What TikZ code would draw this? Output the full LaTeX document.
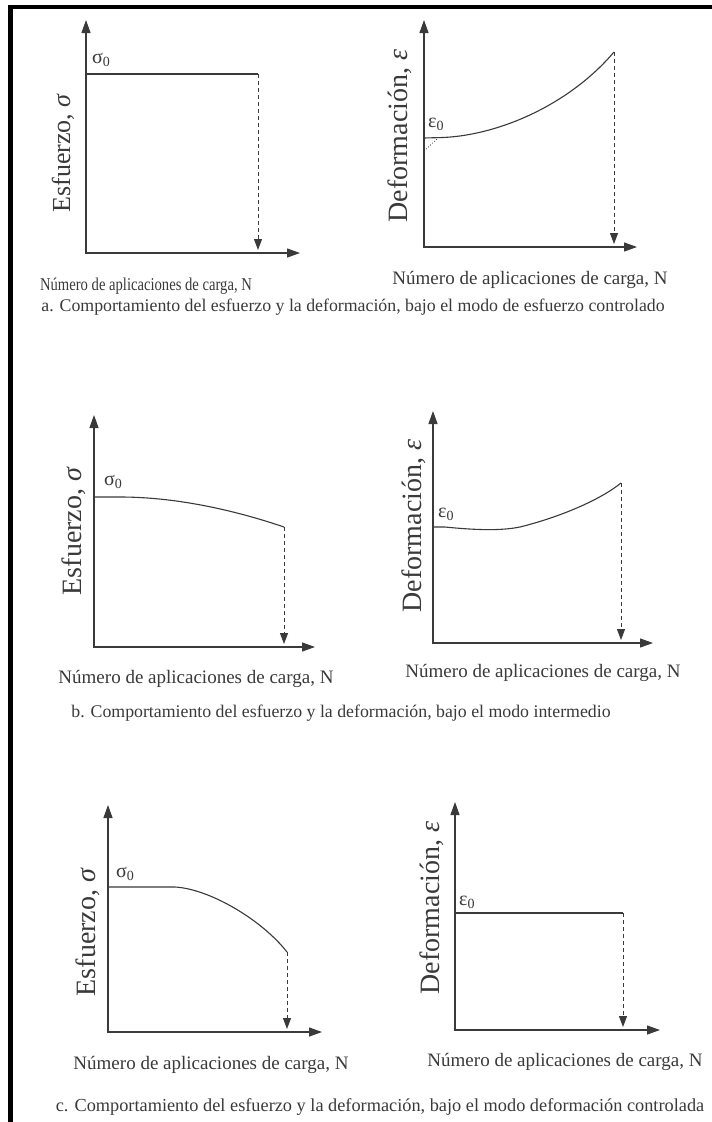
\documentclass[tikz,border=0pt]{standalone}
\usepackage{fontspec}
\usepackage{graphicx}
\setmainfont{Liberation Serif}
\usetikzlibrary{arrows.meta}
\definecolor{ink}{HTML}{3A3A3A}
\begin{document}
\begin{tikzpicture}[x=1pt,y=-1pt,
  axes/.style={draw=ink, line width=1.2pt, {Triangle[length=13pt,width=9pt]}-{Triangle[length=13pt,width=9pt]}},
  curve/.style={draw=ink, line width=1.1pt},
  dropline/.style={draw=ink, line width=1pt, dash pattern=on 4pt off 3pt, -{Triangle[length=11pt,width=8pt]}},
  lab/.style={text=ink, font=\fontsize{19}{22}\selectfont, inner sep=0pt},
  captxt/.style={text=ink, font=\fontsize{17.8}{21}\selectfont, inner sep=0pt},
  ylab/.style={text=ink, font=\fontsize{28}{32}\selectfont, inner sep=0pt, rotate=90},
  sub/.style={text=ink, font=\fontsize{20}{23}\selectfont, inner sep=0pt, anchor=west}]
\useasboundingbox (0,0) rectangle (712,1122);
\fill[white] (0,0) rectangle (712,1122);
% frame
\fill[black] (8,5) rectangle (13,1122);
\fill[black] (8,5) rectangle (712,9);

% ---------- row a ----------
% left
\coordinate (alo) at (86,253);
\draw[axes] (86,20) -- (alo) -- (300,253);
\draw[curve] (86,74) -- (258,74) coordinate (alend);
\draw[dropline] (alend) -- (258,250);
\node[sub] (als) at (92,60) {σ\textsubscript{0}};
\node[ylab, font=\fontsize{26}{30}\selectfont] (aly) at (63,153) {Esfuerzo, \textit{σ}};
\node[lab] (alx) at (146,286) {\scalebox{0.77}[0.95]{Número de aplicaciones de carga, N}};
% right
\coordinate (aro) at (424,247);
\draw[axes] (424,20) -- (aro) -- (637,247);
\draw[curve] (424,138) -- (443,137.5) .. controls (500,135) and (570,104) .. (614,52) coordinate (arend);
\draw[ink, line width=0.8pt, dotted] (424,151) -- (437,139);
\draw[dropline] (arend) -- (614,244);
\node[sub] (ars) at (428,124) {ε\textsubscript{0}};
\node[ylab] (ary) at (400,136) {Deformación, \textit{ε}};
\node[lab] (arx) at (530,280) {Número de aplicaciones de carga, N};
\node[captxt] (capa) at (353,307) {a. Comportamiento del esfuerzo y la deformación, bajo el modo de esfuerzo controlado};

% ---------- row b ----------
\coordinate (blo) at (94,647);
\draw[axes] (94,415) -- (blo) -- (315,647);
\draw[curve] (94,497) -- (120,497) .. controls (180,497) and (240,512) .. (284,527) coordinate (blend);
\draw[dropline] (blend) -- (284,644);
\node[sub] (bls) at (104,482) {σ\textsubscript{0}};
\node[ylab] (bly) at (74,531) {Esfuerzo, \textit{σ}};
\node[lab] (blx) at (196,679) {Número de aplicaciones de carga, N};
\coordinate (bro) at (433,643);
\draw[axes] (433,411) -- (bro) -- (653,643);
\draw[curve] (433,527) -- (445,527) .. controls (475,530) and (500,531) .. (520,527) .. controls (560,517) and (600,500) .. (621,483) coordinate (brend);
\draw[dropline] (brend) -- (621,640);
\node[sub] (brs) at (438,514) {ε\textsubscript{0}};
\node[ylab] (bry) at (414,526) {Deformación, \textit{ε}};
\node[lab] (brx) at (543,673) {Número de aplicaciones de carga, N};
\node[captxt] (capb) at (341,713) {b. Comportamiento del esfuerzo y la deformación, bajo el modo intermedio};

% ---------- row c ----------
\coordinate (clo) at (108,1032);
\draw[axes] (108,805) -- (clo) -- (322,1032);
\draw[curve] (108,887) -- (175,887) .. controls (210,889) and (262,920) .. (287,952) coordinate (clend);
\draw[dropline] (clend) -- (287,1029);
\node[sub] (cls) at (116,874) {σ\textsubscript{0}};
\node[ylab] (cly) at (88,932) {Esfuerzo, \textit{σ}};
\node[lab] (clx) at (211,1065) {Número de aplicaciones de carga, N};
\coordinate (cro) at (455,1030);
\draw[axes] (455,802) -- (cro) -- (660,1030);
\draw[curve] (455,913) -- (623,913) coordinate (crend);
\draw[dropline] (crend) -- (623,1027);
\node[sub] (crs) at (459,902) {ε\textsubscript{0}};
\node[ylab] (cry) at (432,908) {Deformación, \textit{ε}};
\node[lab] (crx) at (565,1062) {Número de aplicaciones de carga, N};
\node[captxt, font=\fontsize{18.3}{21}\selectfont] (capc) at (380,1107) {c. Comportamiento del esfuerzo y la deformación, bajo el modo deformación controlada};
\end{tikzpicture}
\end{document}
